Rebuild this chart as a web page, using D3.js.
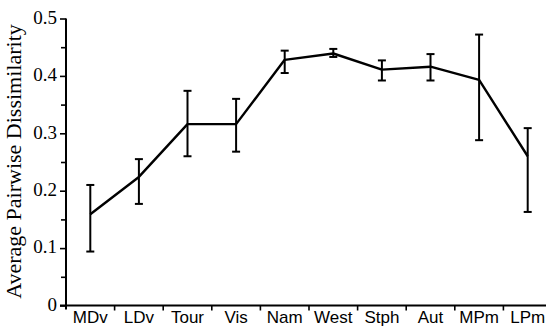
<!DOCTYPE html>
<html>
<head>
<meta charset="utf-8">
<script src="https://cdn.jsdelivr.net/npm/d3@7/dist/d3.min.js"></script>
<style>
  html, body { margin: 0; padding: 0; background: #fff; }
  svg { display: block; }
</style>
</head>
<body>
<svg id="chart" width="546" height="327"></svg>
<script>
// Regions along the processing stream
const categories = ["MDv", "LDv", "Tour", "Vis", "Nam", "West", "Stph", "Aut", "MPm", "LPm"];
// Mean dissimilarity and error-bar bounds
const means = [0.159, 0.224, 0.316, 0.316, 0.428, 0.439, 0.411, 0.416, 0.393, 0.260];
const upper = [0.210, 0.255, 0.374, 0.360, 0.444, 0.447, 0.427, 0.438, 0.472, 0.309];
const lower = [0.094, 0.177, 0.260, 0.268, 0.405, 0.433, 0.392, 0.392, 0.288, 0.163];
const yTicks = [0, 0.1, 0.2, 0.3, 0.4, 0.5];
const yMinorTicks = [0.05, 0.15, 0.25, 0.35, 0.45];
const yTitle = "Average Pairwise Dissimilarity";

const svg = d3.select("#chart");
const x0 = 66, x1 = 552, yTop = 18.5, yBottom = 305.5;

const x = d3.scaleBand().domain(categories).range([x0, x1]).padding(0);
const y = d3.scaleLinear().domain([0, 0.5]).range([yBottom, yTop]);

const serif = "'Liberation Serif', 'Times New Roman', serif";
const sans = "'Liberation Sans', Arial, Helvetica, sans-serif";

// Y axis: major ticks with labels, minor ticks between
const yAxis = svg.append("g").attr("transform", `translate(${x0},0)`)
  .call(d3.axisLeft(y).tickValues(yTicks).tickSize(6).tickPadding(3)
    .tickFormat(d => d === 0 ? "0" : d3.format(".1f")(d)));
yAxis.select(".domain").remove();
yAxis.selectAll("line").attr("stroke", "#000").attr("stroke-width", 1.6);
yAxis.selectAll("text").attr("font-family", serif).attr("font-size", 19).attr("fill", "#000")
  .attr("dy", "0.25em");

const yMinor = svg.append("g").attr("transform", `translate(${x0},0)`)
  .call(d3.axisLeft(y).tickValues(yMinorTicks).tickSize(5).tickFormat(""));
yMinor.select(".domain").remove();
yMinor.selectAll("line").attr("stroke", "#000").attr("stroke-width", 1.6);

svg.append("line")
  .attr("x1", x0).attr("x2", x0).attr("y1", yTop).attr("y2", yBottom + 4)
  .attr("stroke", "#000").attr("stroke-width", 2);

// X axis: ticks at band boundaries, labels centred in bands
svg.append("line")
  .attr("x1", x0 - 6).attr("x2", x1).attr("y1", yBottom).attr("y2", yBottom)
  .attr("stroke", "#000").attr("stroke-width", 2);

svg.append("g").selectAll("line.bt")
  .data(categories.slice(1))
  .join("line")
  .attr("x1", d => x(d)).attr("x2", d => x(d))
  .attr("y1", yBottom).attr("y2", yBottom + 5)
  .attr("stroke", "#000").attr("stroke-width", 1.6);

svg.append("g").selectAll("text")
  .data(categories)
  .join("text")
  .attr("x", d => x(d) + x.bandwidth() / 2)
  .attr("y", 322.5)
  .attr("text-anchor", "middle")
  .attr("font-family", sans)
  .attr("font-size", 17)
  .attr("fill", "#000")
  .text(d => d);

// Axis title
svg.append("text")
  .attr("transform", "translate(21,161.5) rotate(-90)")
  .attr("text-anchor", "middle")
  .attr("font-family", serif)
  .attr("font-size", 22)
  .attr("fill", "#000")
  .text(yTitle);

const cx = d => x(d) + x.bandwidth() / 2;
const capW = 4;

// Error bars
const bars = svg.append("g").attr("stroke", "#000").attr("stroke-width", 2);
categories.forEach((c, i) => {
  bars.append("line").attr("x1", cx(c)).attr("x2", cx(c)).attr("y1", y(upper[i])).attr("y2", y(lower[i]));
  bars.append("line").attr("x1", cx(c) - capW).attr("x2", cx(c) + capW).attr("y1", y(upper[i])).attr("y2", y(upper[i]));
  bars.append("line").attr("x1", cx(c) - capW).attr("x2", cx(c) + capW).attr("y1", y(lower[i])).attr("y2", y(lower[i]));
});

// Mean line
svg.append("path")
  .datum(categories.map((c, i) => [cx(c), y(means[i])]))
  .attr("fill", "none")
  .attr("stroke", "#000")
  .attr("stroke-width", 2.4)
  .attr("stroke-linejoin", "round")
  .attr("d", d3.line());
</script>
</body>
</html>
